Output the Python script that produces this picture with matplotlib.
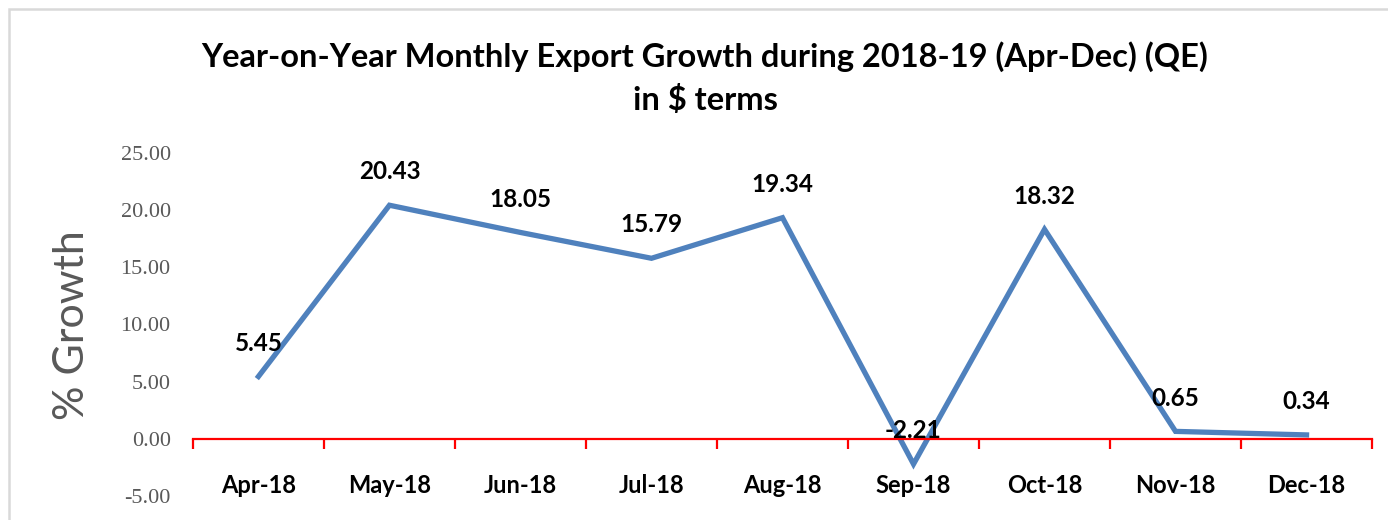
import matplotlib.pyplot as plt
from matplotlib.patches import Rectangle
import numpy as np

months = ['Apr-18', 'May-18', 'Jun-18', 'Jul-18', 'Aug-18',
          'Sep-18', 'Oct-18', 'Nov-18', 'Dec-18']
growth = [5.45, 20.43, 18.05, 15.79, 19.34, -2.21, 18.32, 0.65, 0.34]
yticks = [-5, 0, 5, 10, 15, 20, 25]

sans = 'Lato'
serif = 'Liberation Serif'

fig = plt.figure(figsize=(13.88, 5.2), dpi=100)
ax = fig.add_axes([0.139, 0.0462, 0.8495, 0.6596])

# chart border
fig.patches.append(Rectangle((9 / 1388, -0.05), 1.1, 1 - 9 / 520 + 0.05,
                             transform=fig.transFigure, fill=False,
                             edgecolor='#D9D9D9', linewidth=1.8))

x = np.arange(len(months))
ax.plot(x, growth, color='#4F81BD', linewidth=3.8, solid_joinstyle='miter')

for xi, v in zip(x, growth):
    ax.annotate('%.2f' % v, (xi, v), xytext=(0, 24), textcoords='offset points',
                ha='center', va='center', fontsize=17.5, fontweight='bold',
                family=sans, color='black')

ax.set_xlim(-0.5, len(months) - 0.5)
ax.set_ylim(-5, 25)
ax.set_yticks(yticks)
ax.set_yticklabels(['%.2f' % t for t in yticks], family=serif, fontsize=16,
                   color='#595959')
ax.tick_params(axis='y', length=0, pad=16)

for s in ['top', 'right', 'left']:
    ax.spines[s].set_visible(False)
ax.spines['bottom'].set_position(('data', 0))
ax.spines['bottom'].set_color('#FF0000')
ax.spines['bottom'].set_linewidth(1.6)

ax.set_xticks(x)
ax.set_xticklabels(months, family=sans, fontsize=17, fontweight='bold')
ax.tick_params(axis='x', which='major', length=0, pad=25)
ax.set_xticks(np.arange(-0.5, len(months), 1), minor=True)
ax.tick_params(axis='x', which='minor', length=7, width=1.6, color='#FF0000',
               direction='out')

fig.text(0.508, 0.85, 'Year-on-Year Monthly Export Growth during 2018-19 (Apr-Dec) (QE)\nin $ terms',
         ha='center', va='center', fontsize=23.5, fontweight='bold', family=sans,
         linespacing=1.5)
fig.text(72 / 1388, 0.375, '% Growth', rotation=90, ha='center', va='center',
         fontsize=31, family=sans, color='#595959')

fig.savefig('out.png', dpi=100)
